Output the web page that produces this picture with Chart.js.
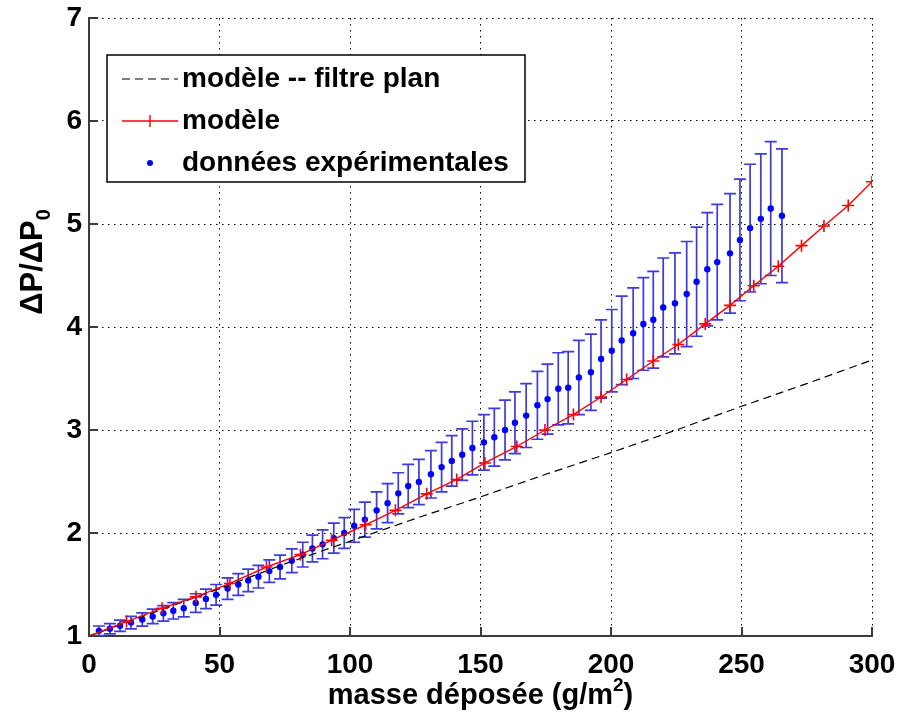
<!DOCTYPE html>
<html>
<head>
<meta charset="utf-8">
<script src="https://cdn.jsdelivr.net/npm/chart.js@4.4.0/dist/chart.umd.min.js"></script>
<style>
  html, body { margin: 0; padding: 0; background: #fff; }
  #wrap { width: 899px; height: 720px; }
</style>
</head>
<body>
<div id="wrap"><canvas id="chart" width="899" height="720"></canvas></div>
<script>
// données
const expMass = [3.8, 8.0, 11.9, 16.1, 20.4, 24.4, 28.5, 32.3, 36.3, 40.9, 44.8, 48.7, 53.1, 57.2,
  61.0, 64.9, 69.1, 73.2, 77.7, 81.9, 85.6, 89.5, 93.8, 97.8, 101.6, 105.7, 110.2, 114.4,
  118.5, 122.3, 126.4, 131.0, 135.1, 139.0, 143.0, 146.9, 151.3, 155.3, 159.4, 163.2, 167.5,
  171.8, 175.7, 179.8, 183.6, 187.7, 192.3, 196.2, 200.3, 204.1, 208.5, 212.4, 216.2, 220.0,
  224.5, 229.0, 232.8, 236.9, 240.7, 245.6, 249.4, 253.3, 257.4, 261.2, 265.5];
const expMean = [1.05, 1.07, 1.10, 1.13, 1.16, 1.19, 1.22, 1.245, 1.27, 1.32, 1.36, 1.40, 1.46, 1.50,
  1.54, 1.576, 1.63, 1.67, 1.73, 1.79, 1.85, 1.89, 1.95, 2.0, 2.07, 2.13, 2.22, 2.29,
  2.385, 2.456, 2.495, 2.57, 2.64, 2.70, 2.76, 2.825, 2.88, 2.93, 3.0, 3.07, 3.14,
  3.24, 3.30, 3.40, 3.41, 3.51, 3.56, 3.69, 3.77, 3.87, 3.94, 4.03, 4.07, 4.19,
  4.23, 4.32, 4.44, 4.56, 4.63, 4.715, 4.845, 4.96, 5.05, 5.15, 5.08];
const expErr = [0.047, 0.05, 0.055, 0.06, 0.065, 0.07, 0.075, 0.08, 0.085, 0.09, 0.095, 0.10, 0.105, 0.105,
  0.11, 0.11, 0.11, 0.115, 0.115, 0.12, 0.13, 0.14, 0.145, 0.15, 0.16, 0.17, 0.18, 0.19,
  0.20, 0.21, 0.22, 0.23, 0.24, 0.245, 0.25, 0.26, 0.27, 0.28, 0.29, 0.30, 0.31,
  0.33, 0.34, 0.35, 0.35, 0.36, 0.37, 0.38, 0.40, 0.43, 0.44, 0.45, 0.47, 0.48,
  0.49, 0.51, 0.53, 0.55, 0.56, 0.58, 0.59, 0.62, 0.63, 0.65, 0.65];

const modelMass = [0, 14.4, 28, 41, 54, 68, 81, 93, 106, 117.4, 129.4, 140.9, 151.7, 163.9,
  174.7, 185.6, 196.2, 206.0, 216.2, 225.8, 236.1, 245.6, 254.7, 264.1, 273.0, 281.6, 290.9, 300];
const modelRatio = [1.0, 1.14, 1.27, 1.38, 1.51, 1.67, 1.79, 1.93, 2.08, 2.22, 2.38, 2.52, 2.68, 2.84,
  3.0, 3.15, 3.32, 3.49, 3.67, 3.83, 4.03, 4.21, 4.40, 4.59, 4.79, 4.98, 5.18, 5.41];

const planMass = [0, 25, 50, 75, 100, 125, 150, 175, 200, 225, 250, 275, 300];
const planRatio = [1.0, 1.23, 1.46, 1.70, 1.92, 2.14, 2.35, 2.57, 2.78, 3.0, 3.23, 3.45, 3.68];

const xTicks = [0, 50, 100, 150, 200, 250, 300];
const yTicks = [1, 2, 3, 4, 5, 6, 7];

const labels = ['modèle -- filtre plan', 'modèle', 'données expérimentales'];
const xTitle = ['masse déposée (g/m', '2', ')'];
const yTitle = ['ΔP/ΔP', '0'];

const FONT = '"Liberation Sans", Arial, sans-serif';
const AXIS_COLOR = '#3c3c3c';
const BAR_COLOR = '#3b3be0';

const toPts = (xs, ys) => xs.map((x, i) => ({ x: x, y: ys[i] }));

// barres d'erreur
const errorBars = {
  id: 'errorBars',
  beforeDatasetsDraw(chart) {
    const { ctx, scales: { x, y } } = chart;
    ctx.save();
    ctx.strokeStyle = BAR_COLOR;
    ctx.lineWidth = 1.7;
    expMass.forEach((m, i) => {
      const px = x.getPixelForValue(m);
      const top = y.getPixelForValue(expMean[i] + expErr[i]);
      const bot = y.getPixelForValue(expMean[i] - expErr[i]);
      ctx.beginPath();
      ctx.moveTo(px, top); ctx.lineTo(px, bot);
      ctx.moveTo(px - 6, top); ctx.lineTo(px + 6, top);
      ctx.moveTo(px - 6, bot); ctx.lineTo(px + 6, bot);
      ctx.stroke();
    });
    ctx.restore();
  }
};

// petits traits de graduation vers l'intérieur
const innerTicks = {
  id: 'innerTicks',
  afterDatasetsDraw(chart) {
    const { ctx, chartArea: a, scales: { x, y } } = chart;
    ctx.save();
    ctx.strokeStyle = AXIS_COLOR;
    ctx.lineWidth = 2;
    ctx.beginPath();
    xTicks.forEach(t => {
      const px = Math.round(x.getPixelForValue(t));
      ctx.moveTo(px, a.bottom); ctx.lineTo(px, a.bottom - 9);
    });
    yTicks.forEach(t => {
      const py = Math.round(y.getPixelForValue(t));
      ctx.moveTo(a.left, py); ctx.lineTo(a.left + 9, py);
    });
    ctx.stroke();
    ctx.restore();
  }
};

// légende dans le cadre + titres des axes
const decorations = {
  id: 'decorations',
  afterDraw(chart) {
    const { ctx, chartArea: a } = chart;
    ctx.save();

    // cadre de la légende
    const bx = 107, by = 55, bw = 418, bh = 127;
    ctx.fillStyle = '#fff';
    ctx.fillRect(bx, by, bw, bh);
    ctx.strokeStyle = '#000';
    ctx.lineWidth = 1.5;
    ctx.strokeRect(bx, by, bw, bh);

    const rows = [79, 121, 163];
    const sx1 = 122, sx2 = 178, sm = 150;

    ctx.strokeStyle = '#000';
    ctx.lineWidth = 1.2;
    ctx.setLineDash([8, 5]);
    ctx.beginPath(); ctx.moveTo(sx1, rows[0]); ctx.lineTo(sx2, rows[0]); ctx.stroke();
    ctx.setLineDash([]);

    ctx.strokeStyle = '#ff0000';
    ctx.lineWidth = 1.4;
    ctx.beginPath();
    ctx.moveTo(sx1, rows[1]); ctx.lineTo(sx2, rows[1]);
    ctx.moveTo(sm, rows[1] - 6); ctx.lineTo(sm, rows[1] + 6);
    ctx.stroke();

    ctx.fillStyle = '#0000ff';
    ctx.beginPath(); ctx.arc(sm, rows[2], 3, 0, Math.PI * 2); ctx.fill();

    ctx.fillStyle = '#000';
    ctx.font = 'bold 28px ' + FONT;
    ctx.textBaseline = 'middle';
    ctx.textAlign = 'left';
    labels.forEach((t, i) => ctx.fillText(t, 182, rows[i]));

    // titre axe x avec exposant
    ctx.textBaseline = 'alphabetic';
    const big = 'bold 29px ' + FONT, small = 'bold 19px ' + FONT;
    ctx.font = big;
    const w0 = ctx.measureText(xTitle[0]).width;
    const w2 = ctx.measureText(xTitle[2]).width;
    ctx.font = small;
    const w1 = ctx.measureText(xTitle[1]).width;
    let cx = (a.left + a.right) / 2 - (w0 + w1 + w2) / 2;
    const base = 704;
    ctx.font = big; ctx.fillText(xTitle[0], cx, base); cx += w0;
    ctx.font = small; ctx.fillText(xTitle[1], cx, base - 13); cx += w1;
    ctx.font = big; ctx.fillText(xTitle[2], cx, base);

    // titre axe y avec indice
    ctx.translate(42, 262);
    ctx.rotate(-Math.PI / 2);
    const ybig = 'bold 31px ' + FONT, ysmall = 'bold 20px ' + FONT;
    ctx.font = ybig;
    const v0 = ctx.measureText(yTitle[0]).width;
    ctx.font = ysmall;
    const v1 = ctx.measureText(yTitle[1]).width;
    const start = -(v0 + v1) / 2;
    ctx.font = ybig; ctx.fillText(yTitle[0], start, 0);
    ctx.font = ysmall; ctx.fillText(yTitle[1], start + v0, 8);

    ctx.restore();
  }
};

new Chart(document.getElementById('chart'), {
  type: 'scatter',
  data: {
    datasets: [
      {
        label: labels[2],
        data: toPts(expMass, expMean),
        showLine: false,
        pointRadius: 3.2,
        pointBackgroundColor: '#0000ff',
        pointBorderWidth: 0,
        order: 3
      },
      {
        label: labels[1],
        data: toPts(modelMass, modelRatio),
        showLine: true,
        borderColor: '#ff0000',
        borderWidth: 1.4,
        pointStyle: 'cross',
        pointRadius: 6,
        pointBorderColor: '#ff0000',
        pointBorderWidth: 1.6,
        order: 1
      },
      {
        label: labels[0],
        data: toPts(planMass, planRatio),
        showLine: true,
        borderColor: '#000',
        borderWidth: 1.2,
        borderDash: [8, 5],
        pointRadius: 0,
        order: 2
      }
    ]
  },
  options: {
    responsive: false,
    animation: false,
    devicePixelRatio: 1,
    layout: { padding: { top: 18, right: 27, left: 0, bottom: 0 } },
    scales: {
      x: {
        type: 'linear',
        min: 0,
        max: 300,
        afterBuildTicks: s => { s.ticks = xTicks.map(v => ({ value: v })); },
        afterFit: s => { s.height = 84; s.paddingLeft = 0; s.paddingRight = 0; },
        grid: { color: '#000', lineWidth: 1, drawTicks: false },
        border: { display: true, color: AXIS_COLOR, width: 2, dash: [1.5, 4.5] },
        ticks: { color: '#000', padding: 12, maxRotation: 0, font: { family: FONT, size: 28, weight: 'bold' } }
      },
      y: {
        type: 'linear',
        min: 1,
        max: 7,
        afterBuildTicks: s => { s.ticks = yTicks.map(v => ({ value: v })); },
        afterFit: s => { s.width = 89; s.paddingTop = 0; s.paddingBottom = 0; },
        grid: { color: '#000', lineWidth: 1, drawTicks: false },
        border: { display: true, color: AXIS_COLOR, width: 2, dash: [1.5, 4.5] },
        ticks: { color: '#000', padding: 7, font: { family: FONT, size: 28, weight: 'bold' } }
      }
    },
    plugins: {
      legend: { display: false },
      tooltip: { enabled: false }
    }
  },
  plugins: [errorBars, innerTicks, decorations]
});
</script>
</body>
</html>
